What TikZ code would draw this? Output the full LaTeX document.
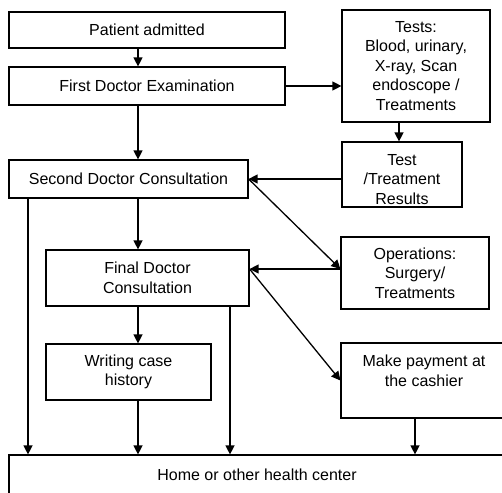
\documentclass[tikz,border=0pt]{standalone}
\usepackage{fontspec}
\setmainfont{Liberation Sans}
\usetikzlibrary{arrows.meta}

\begin{document}
\begin{tikzpicture}[x=1pt,y=-1pt,
  box/.style={draw, line width=1.2pt, inner sep=0pt, align=center,
              font=\fontsize{16}{19.5}\selectfont},
  lbl/.style={inner sep=0pt, align=center, font=\fontsize{16}{19.5}\selectfont},
  flow/.style={line width=1.3pt, -{Triangle[length=9pt,width=9pt]}}]

  \useasboundingbox (0,0) rectangle (502,492);
  \clip (0,0) rectangle (502,492);

  % process boxes
  \node[box, minimum width=276pt, minimum height=36pt] (patient) at (147,30) {Patient admitted};
  \node[box, minimum width=276pt, minimum height=38pt] (first) at (147,86) {First Doctor Examination};
  \node[box, minimum width=239pt, minimum height=38pt] (second) at (128.5,179) {Second Doctor Consultation};
  \node[box, minimum width=203pt, minimum height=56pt] (final) at (147.5,278) {Final Doctor\\Consultation};
  \node[box, minimum width=165pt, minimum height=56pt] (writing) at (128.5,372) {Writing case\\history};

  \node[box, minimum width=148pt, minimum height=112pt] (tests) at (416,66)
    {Tests:\\Blood, urinary,\\X-ray, Scan\\endoscope /\\Treatments};
  \node[box, minimum width=120pt, minimum height=65pt] (results) at (402,174.5) {};
  \node[lbl] (resultstext) at (402,179.5) {Test\\/Treatment\\Results};
  \node[box, minimum width=148pt, minimum height=72pt] (ops) at (415,273) {Operations:\\Surgery/\\Treatments};
  \node[box, minimum width=179pt, minimum height=75pt] (pay) at (430.5,380.5) {};
  \node[lbl] (paytext) at (424,371) {Make payment at\\the cashier};

  \node[box, minimum width=510pt, minimum height=60pt] (home) at (264,485) {};
  \node[lbl] (hometext) at (257,475) {Home or other health center};

  % vertical guide positions for the connectors
  \coordinate (xa) at (28,0);
  \coordinate (xb) at (138,0);
  \coordinate (xc) at (230,0);
  \coordinate (xd) at (399,0);
  \coordinate (xe) at (415,0);
  \coordinate (ya) at (0,269);

  % main column
  \draw[flow] (patient.south -| xb) -- (first.north -| xb);
  \draw[flow] (first.south -| xb) -- (second.north -| xb);
  \draw[flow] (second.south -| xb) -- (final.north -| xb);
  \draw[flow] (final.south -| xb) -- (writing.north -| xb);
  \draw[flow] (writing.south -| xb) -- (home.north -| xb);

  % tests and results
  \draw[flow] (first.east) -- (first.east -| tests.west);
  \draw[flow] (tests.south -| xd) -- (results.north -| xd);
  \draw[flow] (results.west |- second.east) -- (second.east);

  % operations and payment
  \draw[flow] (second.east) -- (ops.west |- ya);
  \draw[flow] (ops.west |- ya) -- (final.east |- ya);
  \draw[flow] (final.east |- ya) -- (pay.west);

  % exits to home
  \draw[flow] (second.south -| xa) -- (home.north -| xa);
  \draw[flow] (final.south -| xc) -- (home.north -| xc);
  \draw[flow] (pay.south -| xe) -- (home.north -| xe);
\end{tikzpicture}
\end{document}
